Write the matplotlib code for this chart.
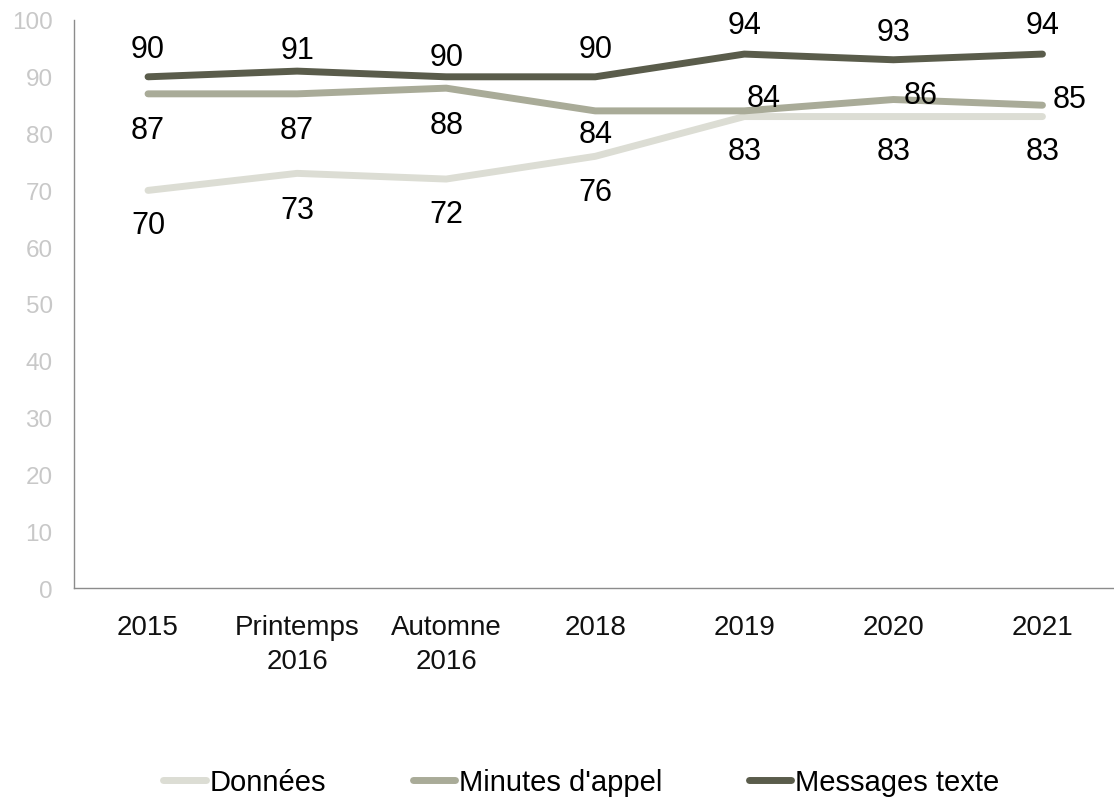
import matplotlib
matplotlib.use("Agg")
import matplotlib.pyplot as plt

plt.rcParams['font.family'] = ['Liberation Sans', 'DejaVu Sans']

categories = ["2015", "Printemps\n2016", "Automne\n2016", "2018", "2019", "2020", "2021"]
donnees = [70, 73, 72, 76, 83, 83, 83]
minutes = [87, 87, 88, 84, 84, 86, 85]
messages = [90, 91, 90, 90, 94, 93, 94]
series_names = ["Données", "Minutes d'appel", "Messages texte"]
colors = ["#dcddd4", "#a9ab98", "#5a5c4b"]

# label centre relative to its point, in pixels (dx right, dy up)
off_donnees = [(0, -32), (0, -34), (0, -32), (0, -33), (0, -32), (0, -32), (0, -32)]
off_minutes = [(0, -33), (0, -33), (0, -34), (0, -20), (19, 16), (27, 7), (27, 9)]
off_messages = [(0, 31), (0, 24), (0, 23), (0, 31), (0, 32), (0, 31), (0, 32)]

DPI = 100
PX = 72 / DPI
LABEL_SIZE = 22
HALF_DIGIT = 0.716 * LABEL_SIZE / PX / 2  # half the digit height, px

fig = plt.figure(figsize=(11.14, 8.04), dpi=DPI)
ax = fig.add_axes([73.5 / 1114, 1 - 589 / 804, 1 - 73.5 / 1114, 568 / 804])

x = list(range(len(categories)))
lines = []
for vals, offs, name, col in zip([donnees, minutes, messages],
                                 [off_donnees, off_minutes, off_messages],
                                 series_names, colors):
    ln, = ax.plot(x, vals, color=col, lw=5.0, solid_capstyle='round',
                  solid_joinstyle='round', label=name)
    lines.append(ln)
    for xi, v, (dx, dy) in zip(x, vals, offs):
        ax.annotate(str(v), (xi, v), xytext=(dx * PX, (dy - HALF_DIGIT) * PX),
                    textcoords='offset points', ha='center', va='baseline',
                    fontsize=LABEL_SIZE, color='black')

ax.set_xlim(-0.5, 6.48)
ax.set_ylim(0, 100)
ax.set_yticks(range(0, 101, 10))
ax.set_xticks(x)
ax.set_xticklabels(categories, fontsize=20, linespacing=1.38)
ax.tick_params(axis='y', length=0, labelsize=17.5, labelcolor='#c8c8c8', pad=15)
ax.tick_params(axis='x', length=0, pad=19, labelcolor='#111111')
for s in ['top', 'right']:
    ax.spines[s].set_visible(False)
for s in ['left', 'bottom']:
    ax.spines[s].set_color('#8c8c8c')
    ax.spines[s].set_linewidth(1.0)

fig.legend(handles=lines, loc='center', bbox_to_anchor=(0.522, 1 - 783 / 804),
           ncol=3, frameon=False, fontsize=21, handlelength=1.45,
           handletextpad=0.15, columnspacing=2.95)

fig.savefig("out.png", dpi=DPI)
